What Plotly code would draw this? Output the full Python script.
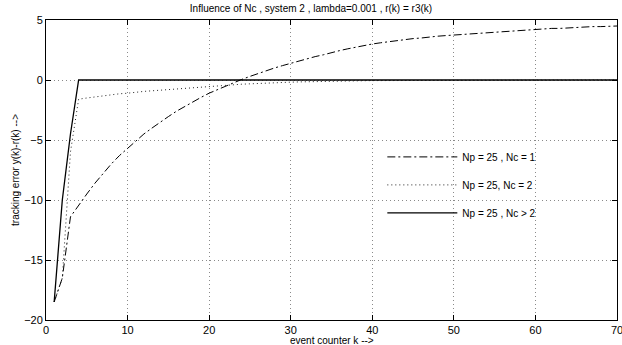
import plotly.graph_objects as go

k = list(range(1, 71))

err_nc1 = [-18.5, -16.5, -11.4, -10.4, -9.5, -8.6, -7.8, -7.0, -6.3, -5.7,
           -5.1, -4.5, -4.0, -3.5, -3.05, -2.6, -2.2, -1.8, -1.45, -1.1,
           -0.8, -0.5, -0.2, 0.05, 0.3, 0.55, 0.8, 1.0, 1.2, 1.4,
           1.6, 1.8, 1.95, 2.1, 2.3, 2.45, 2.6, 2.75, 2.9, 3.0,
           3.1, 3.2, 3.3, 3.4, 3.45, 3.5, 3.6, 3.65, 3.7, 3.75,
           3.8, 3.85, 3.9, 3.95, 4.0, 4.05, 4.1, 4.15, 4.2, 4.2,
           4.25, 4.3, 4.3, 4.35, 4.4, 4.4, 4.45, 4.45, 4.5, 4.5]

err_nc2 = [-18.5, -16.5, -6.0, -1.6, -1.5, -1.4, -1.3, -1.2, -1.15, -1.1,
           -1.0, -0.95, -0.9, -0.85, -0.8, -0.7, -0.65, -0.6, -0.55, -0.5,
           -0.45, -0.42, -0.38, -0.35, -0.32, -0.28, -0.25, -0.22, -0.2, -0.18,
           -0.16, -0.14, -0.12, -0.11, -0.1, -0.09, -0.08, -0.07, -0.06, -0.05,
           -0.05, -0.04, -0.04, -0.03, -0.03, -0.03, -0.02, -0.02, -0.02, -0.02,
           -0.01, -0.01, -0.01, -0.01, -0.01, -0.01, 0.0, 0.0, 0.0, 0.0,
           0.0, 0.0, 0.0, 0.0, 0.0, 0.0, 0.0, 0.0, 0.0, 0.0]

err_nc3 = [-18.5, -10.0, -4.5] + [0.0] * 67

labels = ["Np = 25 , Nc = 1", "Np = 25, Nc = 2", "Np = 25 , Nc > 2"]
x_ticks = [0, 10, 20, 30, 40, 50, 60, 70]
y_ticks = [-20, -15, -10, -5, 0, 5]

font_family = "Liberation Sans, Arial, Helvetica, sans-serif"

fig = go.Figure()
fig.add_trace(go.Scatter(x=k, y=err_nc1, mode="lines", name=labels[0],
                         legendgroup="a",
                         line=dict(color="black", width=1,
                                   dash="8px,3px,2px,3px")))
fig.add_trace(go.Scatter(x=k, y=err_nc2, mode="lines", name=labels[1],
                         legendgroup="b",
                         line=dict(color="#222222", width=1, dash="1px,3px")))
fig.add_trace(go.Scatter(x=k, y=err_nc3, mode="lines", name=labels[2],
                         legendgroup="c",
                         line=dict(color="black", width=1.3)))

axis_common = dict(
    showline=True, linecolor="black", linewidth=1, mirror="allticks",
    ticks="inside", ticklen=5, tickcolor="black",
    showgrid=True, gridcolor="#8a8a8a", griddash="1px,3px", gridwidth=1,
    zeroline=False, automargin=False, ticklabeloverflow="allow",
    tickfont=dict(size=11, color="black", family=font_family),
)

fig.update_layout(
    width=622, height=345,
    margin=dict(l=46, r=5, t=20, b=25),
    paper_bgcolor="white", plot_bgcolor="white",
    font=dict(family=font_family, size=10, color="black"),
    title=dict(text="Influence of Nc , system 2 , lambda=0.001 , r(k) = r3(k)",
               x=0.5, xanchor="center", y=0.985, yanchor="top",
               font=dict(size=10, color="black")),
    xaxis=dict(range=[0, 70], tickvals=x_ticks, **axis_common),
    yaxis=dict(range=[-20, 5], tickvals=y_ticks,
               title=dict(text="tracking error y(k)-r(k) -->", standoff=2,
                          font=dict(size=10)),
               **axis_common),
    legend=dict(x=0.589, y=0.592, xanchor="left", yanchor="top",
                bgcolor="rgba(0,0,0,0)", borderwidth=0,
                tracegroupgap=9, traceorder="grouped", itemwidth=70,
                font=dict(size=10, color="black")),
    annotations=[dict(text="event counter k -->", xref="paper", yref="paper",
                      x=0.5, y=0, yshift=-13, xanchor="center", yanchor="top",
                      showarrow=False, font=dict(size=10, color="black"))],
)

fig.write_html(
    "out.html",
    config={"displayModeBar": False},
    post_script="document.body.style.margin='0';document.body.style.padding='0';",
)
